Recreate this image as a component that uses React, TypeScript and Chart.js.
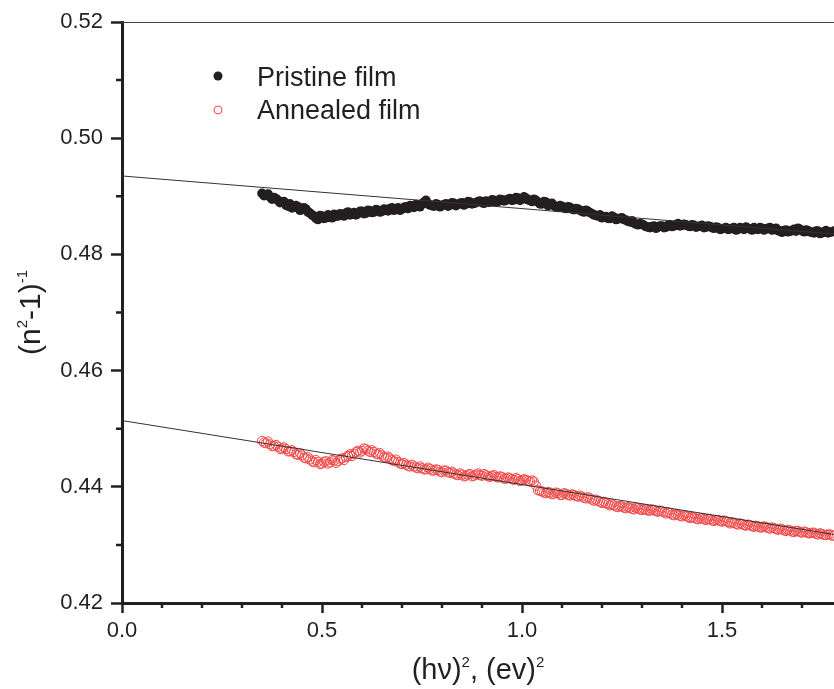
import React, { useEffect, useRef } from "react";
import { Chart, registerables } from "chart.js";

Chart.register(...registerables);

// (hv)^2 in (eV)^2, first sampling
const X_VALUES = [
  0.35, 0.36, 0.37, 0.38, 0.39, 0.4, 0.41, 0.42, 0.43, 0.44, 0.45, 0.46, 0.47, 0.48, 0.49,
  0.5, 0.51, 0.52, 0.53, 0.54, 0.55, 0.56, 0.57, 0.58, 0.59, 0.6, 0.61, 0.62, 0.63, 0.64,
  0.65, 0.66, 0.67, 0.68, 0.69, 0.7, 0.71, 0.72, 0.73, 0.74, 0.75, 0.76, 0.77, 0.78, 0.79,
  0.8, 0.81, 0.82, 0.83, 0.84, 0.85, 0.86, 0.87, 0.88, 0.89, 0.9, 0.91, 0.92, 0.93, 0.94,
  0.95, 0.96, 0.97, 0.98, 0.99, 1.0, 1.01, 1.02, 1.03, 1.04, 1.05, 1.06, 1.07, 1.08, 1.09,
  1.1, 1.11, 1.12, 1.13, 1.14, 1.15, 1.16, 1.17, 1.18, 1.19, 1.2, 1.21, 1.22, 1.23, 1.24,
  1.25, 1.26, 1.27, 1.28, 1.29, 1.3, 1.31, 1.32, 1.33, 1.34, 1.35, 1.36, 1.37, 1.38, 1.39,
  1.4, 1.41, 1.42, 1.43, 1.44, 1.45, 1.46, 1.47, 1.48, 1.49, 1.5, 1.51, 1.52, 1.53, 1.54,
  1.55, 1.56, 1.57, 1.58, 1.59, 1.6, 1.61, 1.62, 1.63, 1.64, 1.65, 1.66, 1.67, 1.68, 1.69,
  1.7, 1.71, 1.72, 1.73, 1.74, 1.75, 1.76, 1.77, 1.78,
];

// (hv)^2 in (eV)^2, interleaved sampling
const X_VALUES_B = [
  0.355, 0.365, 0.375, 0.385, 0.395, 0.405, 0.415, 0.425, 0.435, 0.445,
  0.455, 0.465, 0.475, 0.485, 0.495, 0.505, 0.515, 0.525, 0.535, 0.545,
  0.555, 0.565, 0.575, 0.585, 0.595, 0.605, 0.615, 0.625, 0.635, 0.645,
  0.655, 0.665, 0.675, 0.685, 0.695, 0.705, 0.715, 0.725, 0.735, 0.745,
  0.755, 0.765, 0.775, 0.785, 0.795, 0.805, 0.815, 0.825, 0.835, 0.845,
  0.855, 0.865, 0.875, 0.885, 0.895, 0.905, 0.915, 0.925, 0.935, 0.945,
  0.955, 0.965, 0.975, 0.985, 0.995, 1.005, 1.015, 1.025, 1.035, 1.045,
  1.055, 1.065, 1.075, 1.085, 1.095, 1.105, 1.115, 1.125, 1.135, 1.145,
  1.155, 1.165, 1.175, 1.185, 1.195, 1.205, 1.215, 1.225, 1.235, 1.245,
  1.255, 1.265, 1.275, 1.285, 1.295, 1.305, 1.315, 1.325, 1.335, 1.345,
  1.355, 1.365, 1.375, 1.385, 1.395, 1.405, 1.415, 1.425, 1.435, 1.445,
  1.455, 1.465, 1.475, 1.485, 1.495, 1.505, 1.515, 1.525, 1.535, 1.545,
  1.555, 1.565, 1.575, 1.585, 1.595, 1.605, 1.615, 1.625, 1.635, 1.645,
  1.655, 1.665, 1.675, 1.685, 1.695, 1.705, 1.715, 1.725, 1.735, 1.745,
  1.755, 1.765, 1.775,
];

// (n^2-1)^-1, pristine film
const PRISTINE = [
  0.4905, 0.4902, 0.4899, 0.4898, 0.4893, 0.489, 0.4885, 0.4887, 0.4881, 0.4882, 0.4877, 0.4878, 0.4871, 0.4866, 0.486,
  0.4866, 0.4863, 0.4866, 0.4869, 0.4866, 0.4869, 0.4871, 0.4868, 0.4872, 0.487, 0.4874, 0.4871, 0.4875, 0.4873, 0.4876,
  0.4874, 0.4877, 0.4879, 0.4876, 0.488, 0.4878, 0.4882, 0.4884, 0.4881, 0.4885, 0.4887, 0.4893, 0.4885, 0.4883, 0.4886,
  0.4884, 0.4887, 0.4885, 0.4888, 0.4886, 0.4889, 0.4887, 0.489, 0.4888, 0.4891, 0.4889, 0.4892, 0.489, 0.4893, 0.4891,
  0.4894, 0.4893, 0.4896, 0.4894, 0.4897, 0.4895, 0.4897, 0.4893, 0.4895, 0.489, 0.4887, 0.489, 0.4886, 0.4884, 0.4881,
  0.4883, 0.4879, 0.4881, 0.4877, 0.4878, 0.4874, 0.4876, 0.4872, 0.4868, 0.4866, 0.4863, 0.4865, 0.4862, 0.4864, 0.4861,
  0.4863, 0.4859, 0.4856, 0.4854, 0.4851, 0.4852, 0.4848, 0.4846, 0.4849, 0.4847, 0.4849, 0.4847, 0.4851, 0.4849, 0.4853,
  0.485, 0.4851, 0.4848, 0.485, 0.4848, 0.485, 0.4847, 0.4848, 0.4845, 0.4846, 0.4844, 0.4846, 0.4844, 0.4846, 0.4843,
  0.4845, 0.4847, 0.4844, 0.4846, 0.4843, 0.4845, 0.4844, 0.4846, 0.4843, 0.4841, 0.4838, 0.4842, 0.484, 0.4843, 0.4845,
  0.4841, 0.4842, 0.4839, 0.4837, 0.484, 0.4837, 0.4841, 0.4838, 0.484,
];

const PRISTINE_B = [
  0.4901, 0.4904, 0.4895, 0.4896, 0.4889, 0.4891, 0.4883, 0.488, 0.4884, 0.4876,
  0.488, 0.4873, 0.4868, 0.4862, 0.4867, 0.4862, 0.4868, 0.4863, 0.4866, 0.487,
  0.4866, 0.4873, 0.487, 0.4868, 0.4874, 0.487, 0.4876, 0.4872, 0.4877, 0.4873,
  0.4878, 0.4875, 0.488, 0.4878, 0.4876, 0.4881, 0.4879, 0.4883, 0.4886, 0.4882,
  0.489, 0.4887, 0.4884, 0.4887, 0.4882, 0.4886, 0.4883, 0.4889, 0.4884, 0.4888,
  0.4885, 0.4891, 0.4887, 0.4889, 0.4892, 0.4888, 0.489, 0.4894, 0.489, 0.4895,
  0.4892, 0.4895, 0.4893, 0.4898, 0.4893, 0.4899, 0.4894, 0.4891, 0.4893, 0.4887,
  0.4891, 0.4884, 0.4888, 0.4882, 0.4884, 0.488, 0.4882, 0.4878, 0.4879, 0.4876,
  0.4873, 0.4874, 0.487, 0.4867, 0.4868, 0.4864, 0.4862, 0.4866, 0.486, 0.4862,
  0.486, 0.4857, 0.4858, 0.4852, 0.4853, 0.485, 0.4847, 0.4848, 0.4845, 0.4849,
  0.4846, 0.485, 0.4848, 0.4851, 0.4849, 0.4852, 0.4849, 0.4851, 0.4847, 0.4849,
  0.4846, 0.4849, 0.4846, 0.4847, 0.4843, 0.4845, 0.4843, 0.4845, 0.4842, 0.4846,
  0.4843, 0.4845, 0.4842, 0.4844, 0.4846, 0.4842, 0.4845, 0.4842, 0.4845, 0.484,
  0.4841, 0.4839, 0.4841, 0.484, 0.4843, 0.4839, 0.4841, 0.4838, 0.484, 0.4836,
  0.4839, 0.4837, 0.4839,
];

// (n^2-1)^-1, annealed film
const ANNEALED = [
  0.4479, 0.4475, 0.4473, 0.447, 0.4469, 0.4466, 0.4465, 0.4461, 0.446, 0.4455, 0.4454, 0.4449, 0.4447, 0.4442, 0.4443,
  0.444, 0.4444, 0.4442, 0.4445, 0.4444, 0.4449, 0.4451, 0.4456, 0.4457, 0.4462, 0.4462, 0.4465, 0.446, 0.446, 0.4456,
  0.4454, 0.445, 0.4449, 0.4444, 0.4443, 0.4439, 0.4438, 0.4435, 0.4435, 0.4432, 0.4432, 0.443, 0.4431, 0.4428, 0.4429,
  0.4425, 0.4428, 0.4424, 0.4423, 0.442, 0.4421, 0.4419, 0.4422, 0.4419, 0.4423, 0.4419, 0.442, 0.4417, 0.442, 0.4416,
  0.4417, 0.4414, 0.4415, 0.4412, 0.4413, 0.4411, 0.4412, 0.4409, 0.4409, 0.4394, 0.4392, 0.4389, 0.439, 0.4388, 0.4389,
  0.4386, 0.4388, 0.4385, 0.4386, 0.4383, 0.4383, 0.438, 0.438, 0.4376, 0.4376, 0.4372, 0.4372, 0.4368, 0.4368, 0.4365,
  0.4366, 0.4363, 0.4364, 0.4361, 0.4363, 0.436, 0.4361, 0.4359, 0.436, 0.4357, 0.4358, 0.4354, 0.4355, 0.4351, 0.4352,
  0.4349, 0.435, 0.4346, 0.4347, 0.4344, 0.4346, 0.4343, 0.4344, 0.4341, 0.4343, 0.434, 0.4341, 0.4337, 0.4338, 0.4335,
  0.4336, 0.4333, 0.4334, 0.4331, 0.4332, 0.433, 0.4331, 0.4328, 0.4329, 0.4326, 0.4327, 0.4324, 0.4325, 0.4322, 0.4324,
  0.4321, 0.4322, 0.432, 0.4321, 0.4318, 0.4319, 0.4317, 0.4318, 0.4316,
];

const ANNEALED_B = [
  0.4476, 0.4478, 0.447, 0.4472, 0.4465, 0.4468, 0.4461, 0.4463, 0.4456, 0.4458,
  0.445, 0.4451, 0.4444, 0.4446, 0.4439, 0.4443, 0.444, 0.4446, 0.4441, 0.4447,
  0.4446, 0.4453, 0.4453, 0.446, 0.4459, 0.4466, 0.4462, 0.4463, 0.4457, 0.4458,
  0.4451, 0.4452, 0.4446, 0.4447, 0.444, 0.4441, 0.4436, 0.4438, 0.4433, 0.4435,
  0.443, 0.4433, 0.4428, 0.443, 0.4426, 0.4428, 0.4425, 0.4426, 0.4421, 0.4423,
  0.4418, 0.4421, 0.4418, 0.4421, 0.442, 0.4422, 0.4418, 0.4419, 0.4417, 0.4418,
  0.4414, 0.4416, 0.4413, 0.4415, 0.441, 0.4413, 0.441, 0.4411, 0.4402, 0.4393,
  0.439, 0.4391, 0.4387, 0.439, 0.4386, 0.4389, 0.4386, 0.4387, 0.4384, 0.4385,
  0.4381, 0.4382, 0.4378, 0.4378, 0.4374, 0.4374, 0.437, 0.437, 0.4366, 0.4367,
  0.4364, 0.4365, 0.4362, 0.4364, 0.4361, 0.4362, 0.4359, 0.4361, 0.4358, 0.4359,
  0.4356, 0.4356, 0.4352, 0.4353, 0.435, 0.4351, 0.4348, 0.4348, 0.4345, 0.4346,
  0.4344, 0.4345, 0.4342, 0.4343, 0.4341, 0.4342, 0.4339, 0.4339, 0.4336, 0.4337,
  0.4334, 0.4335, 0.4332, 0.4333, 0.433, 0.4332, 0.4329, 0.433, 0.4327, 0.4328,
  0.4325, 0.4326, 0.4323, 0.4324, 0.4322, 0.4323, 0.432, 0.4321, 0.4319, 0.432,
  0.4317, 0.4318, 0.4316,
];

// linear fits
const FIT_X = [0, 1.78];
const PRISTINE_FIT = [0.4935, 0.4835];
const ANNEALED_FIT = [0.4514, 0.4318];

const X_MIN = 0;
const X_MAX = 1.78;
const Y_MIN = 0.42;
const Y_MAX = 0.52;
const X_TICKS = [0, 0.5, 1.0, 1.5];
const X_MINOR = [0.1, 0.2, 0.3, 0.4, 0.6, 0.7, 0.8, 0.9, 1.1, 1.2, 1.3, 1.4, 1.6, 1.7];
const Y_TICKS = [0.42, 0.44, 0.46, 0.48, 0.5, 0.52];
const Y_MINOR = [0.43, 0.45, 0.47, 0.49, 0.51];
const SERIES_LABELS = ["Pristine film", "Annealed film"];

const INK = "#231f20";
const RED = "#f04848";
const FONT = "'Liberation Sans', Arial, Helvetica, sans-serif";

function pairs(xs: number[], ys: number[]) {
  const n = Math.min(xs.length, ys.length);
  const out: { x: number; y: number }[] = [];
  for (let i = 0; i < n; i++) out.push({ x: xs[i], y: ys[i] });
  return out;
}

function drawSup(
  ctx: CanvasRenderingContext2D,
  parts: { t: string; sup?: boolean }[],
  size: number,
  supSize: number,
  raise: number
) {
  let total = 0;
  for (const p of parts) {
    ctx.font = `${p.sup ? supSize : size}px ${FONT}`;
    total += ctx.measureText(p.t).width;
  }
  let x = -total / 2;
  for (const p of parts) {
    ctx.font = `${p.sup ? supSize : size}px ${FONT}`;
    ctx.fillText(p.t, x, p.sup ? -raise : 0);
    x += ctx.measureText(p.t).width;
  }
}

const decorPlugin = {
  id: "decor",
  afterDraw(chart: any) {
    const ctx: CanvasRenderingContext2D = chart.ctx;
    const { left, right, top, bottom } = chart.chartArea;
    const xs = chart.scales.x;
    const ys = chart.scales.y;
    ctx.save();
    // top frame line
    ctx.strokeStyle = "#444";
    ctx.lineWidth = 1;
    ctx.beginPath();
    ctx.moveTo(left, top + 0.5);
    ctx.lineTo(right, top + 0.5);
    ctx.stroke();

    // minor ticks
    ctx.strokeStyle = INK;
    ctx.lineWidth = 2.5;
    ctx.beginPath();
    for (const v of X_MINOR) {
      const px = xs.getPixelForValue(v);
      ctx.moveTo(px, bottom);
      ctx.lineTo(px, bottom + 5);
    }
    for (const v of Y_MINOR) {
      const py = ys.getPixelForValue(v);
      ctx.moveTo(left - 6, py);
      ctx.lineTo(left, py);
    }
    ctx.stroke();

    // axis titles
    ctx.fillStyle = INK;
    ctx.textBaseline = "alphabetic";
    ctx.textAlign = "left";
    ctx.save();
    ctx.translate((left + right) / 2, 679);
    drawSup(
      ctx,
      [{ t: "(h\u03bd)" }, { t: "2", sup: true }, { t: ", (ev)" }, { t: "2", sup: true }],
      29,
      15,
      12
    );
    ctx.restore();

    ctx.save();
    ctx.translate(40, (top + bottom) / 2);
    ctx.rotate(-Math.PI / 2);
    drawSup(
      ctx,
      [{ t: "(n" }, { t: "2", sup: true }, { t: "-1)" }, { t: "-1", sup: true }],
      30,
      15,
      13
    );
    ctx.restore();

    // legend
    ctx.font = `27px ${FONT}`;
    ctx.textBaseline = "alphabetic";
    ctx.textAlign = "left";
    ctx.fillStyle = INK;
    ctx.beginPath();
    ctx.arc(218, 76, 4.5, 0, Math.PI * 2);
    ctx.fill();
    ctx.fillText(SERIES_LABELS[0], 257, 86);
    ctx.strokeStyle = RED;
    ctx.lineWidth = 1;
    ctx.beginPath();
    ctx.arc(218, 110, 4, 0, Math.PI * 2);
    ctx.stroke();
    ctx.fillStyle = INK;
    ctx.fillText(SERIES_LABELS[1], 257, 119);
    ctx.restore();
  },
};

export default function App() {
  const ref = useRef<HTMLCanvasElement | null>(null);

  useEffect(() => {
    if (!ref.current) return;
    const pristine = pairs(X_VALUES, PRISTINE).concat(pairs(X_VALUES_B, PRISTINE_B));
    const annealed = pairs(X_VALUES, ANNEALED).concat(pairs(X_VALUES_B, ANNEALED_B));
    const pFit = pairs(FIT_X, PRISTINE_FIT);
    const aFit = pairs(FIT_X, ANNEALED_FIT);

    const chart = new Chart(ref.current, {
      type: "scatter",
      data: {
        datasets: [
          {
            label: SERIES_LABELS[0],
            data: pristine,
            pointRadius: 4.8,
            pointBackgroundColor: INK,
            pointBorderWidth: 0,
            showLine: false,
            order: 2,
          },
          {
            label: SERIES_LABELS[1],
            data: annealed,
            pointRadius: 4.6,
            pointBackgroundColor: "rgba(0,0,0,0)",
            pointBorderColor: RED,
            pointBorderWidth: 1,
            showLine: false,
            order: 1,
          },
          {
            label: "fit pristine",
            data: pFit,
            showLine: true,
            borderColor: "#333",
            borderWidth: 1,
            pointRadius: 0,
            order: 0,
          },
          {
            label: "fit annealed",
            data: aFit,
            showLine: true,
            borderColor: "#333",
            borderWidth: 1,
            pointRadius: 0,
            order: 0,
          },
        ],
      },
      options: {
        animation: false,
        responsive: false,
        devicePixelRatio: 1,
        layout: { autoPadding: false, padding: { top: 22, left: 0, right: 0, bottom: 0 } },
        plugins: {
          legend: { display: false },
          tooltip: { enabled: false },
          title: { display: false },
        },
        scales: {
          x: {
            type: "linear",
            min: X_MIN,
            max: X_MAX,
            afterBuildTicks: (scale: any) => {
              scale.ticks = X_TICKS.map((v) => ({ value: v }));
            },
            afterFit: (scale: any) => {
              scale.height = 86;
              scale.paddingLeft = 0;
              scale.paddingRight = 0;
              scale.paddingTop = 0;
              scale.paddingBottom = 0;
            },
            ticks: {
              color: INK,
              font: { family: FONT, size: 22 },
              padding: 5,
              maxRotation: 0,
              autoSkip: false,
              callback: (v: any) => Number(v).toFixed(1),
            },
            grid: {
              drawOnChartArea: false,
              drawTicks: true,
              tickLength: 10,
              tickWidth: 2.5,
              tickColor: INK,
            },
            border: { display: true, width: 3, color: INK },
          },
          y: {
            type: "linear",
            min: Y_MIN,
            max: Y_MAX,
            afterBuildTicks: (scale: any) => {
              scale.ticks = Y_TICKS.map((v) => ({ value: v }));
            },
            afterFit: (scale: any) => {
              scale.width = 122;
              scale.paddingLeft = 0;
              scale.paddingRight = 0;
              scale.paddingTop = 0;
              scale.paddingBottom = 0;
            },
            ticks: {
              color: INK,
              font: { family: FONT, size: 22 },
              padding: 8,
              autoSkip: false,
              callback: (v: any) => Number(v).toFixed(2),
            },
            grid: {
              drawOnChartArea: false,
              drawTicks: true,
              tickLength: 11,
              tickWidth: 2.5,
              tickColor: INK,
            },
            border: { display: true, width: 3, color: INK },
          },
        },
      },
      plugins: [decorPlugin],
    } as any);

    return () => chart.destroy();
  }, []);

  return (
    <div style={{ position: "fixed", left: 0, top: 0, width: 834, height: 689, background: "#fff" }}>
      <canvas ref={ref} width={834} height={689} style={{ display: "block" }} />
    </div>
  );
}
